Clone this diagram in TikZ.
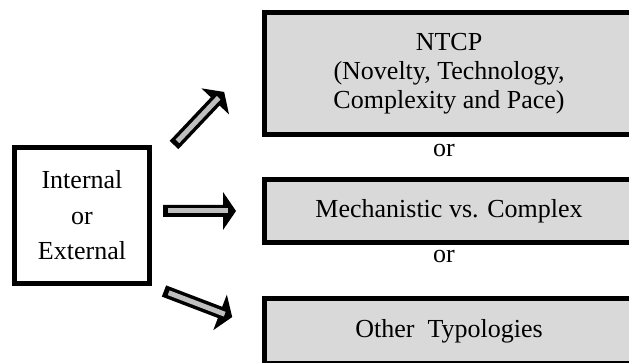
\documentclass[tikz,border=0pt]{standalone}
\usepackage{fontspec}
\setmainfont{Liberation Serif}
\definecolor{boxgray}{HTML}{D9D9D9}
\definecolor{shaftgray}{HTML}{BFBFBF}
\tikzset{
  typebox/.style={draw=black, line width=5pt, fill=boxgray, align=center,
    inner sep=0pt, font=\fontsize{26}{29}\selectfont},
  sourcebox/.style={draw=black, line width=5pt, fill=white, align=center,
    inner sep=0pt, font=\fontsize{26}{35.5}\selectfont},
  orlabel/.style={anchor=base, inner sep=0pt, font=\fontsize{26}{29}\selectfont},
  % black block arrow with a grey core along the shaft
  blockarrow/.pic={
    \fill[black]
      (0,-6) -- (60,-6) -- (60,-19) -- (73,0) -- (60,19) -- (60,6) -- (0,6) -- cycle;
    \fill[shaftgray] (5,-2.5) rectangle (65,2.5);
  }
}
\begin{document}
\begin{tikzpicture}[x=1pt, y=-1pt]
  \useasboundingbox (0,0) rectangle (629,363);

  % source box
  \node[sourcebox, minimum width=135pt, minimum height=136pt] (src) at (82,215.5)
    {Internal\\or\\External};

  % typology boxes (they run past the right edge)
  \node[typebox, minimum width=369pt, minimum height=122pt] (ntcp) at (449,73.5)
    {NTCP\\(Novelty, Technology,\\Complexity and Pace)};
  \node[typebox, minimum width=369pt, minimum height=63pt] (mech) at (449,211)
    {Mechanistic vs. Complex};
  \node[typebox, minimum width=369pt, minimum height=65pt] (other) at (449,331)
    {Other\ \ Typologies};

  % "or" between the boxes
  \node[orlabel] (or1) at (444,157) {or};
  \node[orlabel] (or2) at (444,263) {or};

  % block arrows from the source box towards the typologies
  \coordinate (a1) at (174,145);
  \coordinate (a2) at (163,211);
  \coordinate (a3) at (164,291);
  \pic[rotate=46.6] at (a1) {blockarrow};
  \pic at (a2) {blockarrow};
  \pic[rotate=-20.9] at (a3) {blockarrow};
\end{tikzpicture}
\end{document}
